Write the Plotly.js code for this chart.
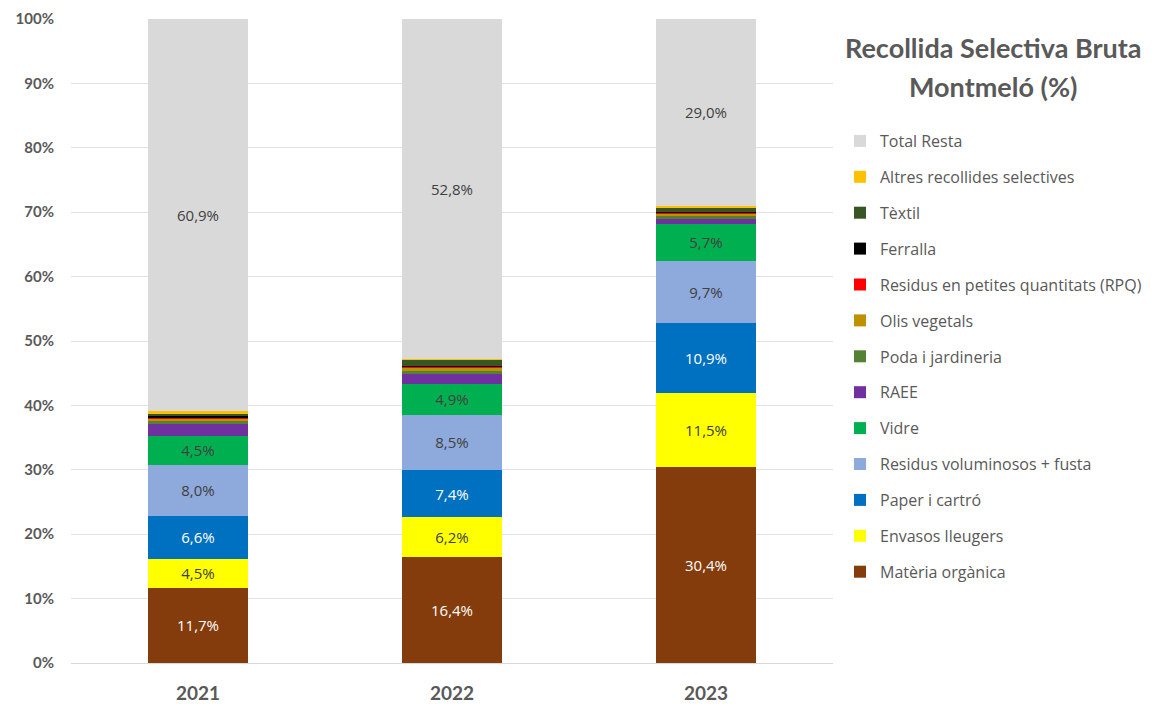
<!DOCTYPE html>
<html>
<head>
<meta charset="utf-8">
<script src="https://cdn.plot.ly/plotly-3.0.1.min.js"></script>
<style>html,body{margin:0;padding:0;background:#fff;}#chart{width:1158px;height:704px;}</style>
</head>
<body>
<div id="chart"></div>
<script>
const years = ['2021', '2022', '2023'];

const materiaOrganica = [11.7, 16.4, 30.4];
const envasosLleugers = [4.5, 6.2, 11.5];
const paperCartro = [6.6, 7.4, 10.9];
const residusVoluminosos = [8.0, 8.5, 9.7];
const vidre = [4.5, 4.9, 5.7];
const raee = [1.8, 1.4, 0.8];
const podaJardineria = [0.5, 0.6, 0.4];
const olisVegetals = [0.3, 0.4, 0.3];
const rpq = [0.1, 0.2, 0.1];
const ferralla = [0.3, 0.1, 0.2];
const textil = [0.4, 1.0, 0.6];
const altres = [0.4, 0.1, 0.4];
const totalResta = [60.9, 52.8, 29.0];

const yTicks = [0, 10, 20, 30, 40, 50, 60, 70, 80, 90, 100];
const yTickLabels = ['0%', '10%', '20%', '30%', '40%', '50%', '60%', '70%', '80%', '90%', '100%'];

const series = [
  {name: 'Matèria orgànica', y: materiaOrganica, color: '#843C0C', label: true, tc: '#FFFFFF'},
  {name: 'Envasos lleugers', y: envasosLleugers, color: '#FFFF00', label: true, tc: '#404040'},
  {name: 'Paper i cartró', y: paperCartro, color: '#0070C0', label: true, tc: '#FFFFFF'},
  {name: 'Residus voluminosos + fusta', y: residusVoluminosos, color: '#8EA9DB', label: true, tc: '#404040'},
  {name: 'Vidre', y: vidre, color: '#00B050', label: true, tc: '#404040'},
  {name: 'RAEE', y: raee, color: '#7030A0', label: false},
  {name: 'Poda i jardineria', y: podaJardineria, color: '#548235', label: false},
  {name: 'Olis vegetals', y: olisVegetals, color: '#BF9000', label: false},
  {name: 'Residus en petites quantitats (RPQ)', y: rpq, color: '#FF0000', label: false},
  {name: 'Ferralla', y: ferralla, color: '#000000', label: false},
  {name: 'Tèxtil', y: textil, color: '#375623', label: false},
  {name: 'Altres recollides selectives', y: altres, color: '#FFC000', label: false},
  {name: 'Total Resta', y: totalResta, color: '#D9D9D9', label: true, tc: '#404040'}
];

const fmt = v => v.toFixed(1).replace('.', ',') + '%';

const traces = series.map((s, i) => ({
  type: 'bar',
  name: s.name,
  x: years,
  y: s.y,
  legendgroup: 'g' + i,
  legendrank: 1000 - i,
  marker: {color: s.color, line: {width: 0}},
  text: s.label ? s.y.map(fmt) : undefined,
  textposition: s.label ? 'inside' : 'none',
  insidetextanchor: 'middle',
  textangle: 0,
  constraintext: 'none',
  textfont: {family: '"Open Sans", sans-serif', size: 15, color: s.tc || '#404040'},
  hoverinfo: 'skip'
}));

const layout = {
  width: 1158,
  height: 704,
  barmode: 'stack',
  bargap: 0.605,
  paper_bgcolor: '#FFFFFF',
  plot_bgcolor: '#FFFFFF',
  margin: {l: 71, r: 325, t: 19, b: 41},
  font: {family: '"Open Sans", sans-serif', color: '#595959'},
  xaxis: {
    type: 'category',
    tickfont: {size: 19, color: '#595959', family: 'Lato, sans-serif', weight: 'bold'},
    showline: true,
    linecolor: '#D9D9D9',
    linewidth: 1,
    ticks: '',
    ticklen: 0,
    ticklabelstandoff: 13,
    fixedrange: true
  },
  yaxis: {
    range: [0, 100],
    tickvals: yTicks,
    ticktext: yTickLabels,
    tickfont: {size: 15, color: '#595959', family: 'Lato, sans-serif', weight: 'bold'},
    showgrid: true,
    gridcolor: '#E3E3E3',
    gridwidth: 1,
    zeroline: false,
    ticks: '',
    ticklabelstandoff: 16,
    fixedrange: true
  },
  legend: {
    x: 840 / 1158,
    xref: 'container',
    y: 1 - 124 / 704,
    yref: 'container',
    xanchor: 'left',
    yanchor: 'top',
    traceorder: 'grouped',
    tracegroupgap: 12.1,
    maxheight: 690,
    font: {size: 16, color: '#595959', family: '"Open Sans", sans-serif'},
    itemwidth: 30,
    bgcolor: 'rgba(0,0,0,0)'
  },
  annotations: [
    {text: '<b>Recollida Selectiva Bruta</b>', xref: 'paper', yref: 'paper', x: 1 + (993 - 833) / 762, y: 1 - (48 - 19) / 644, xanchor: 'center', yanchor: 'middle', showarrow: false, font: {size: 27, color: '#595959', family: 'Lato, sans-serif'}},
    {text: '<b>Montmeló (%)</b>', xref: 'paper', yref: 'paper', x: 1 + (993 - 833) / 762, y: 1 - (86 - 19) / 644, xanchor: 'center', yanchor: 'middle', showarrow: false, font: {size: 27, color: '#595959', family: 'Lato, sans-serif'}}
  ]
};

Plotly.newPlot('chart', traces, layout, {displayModeBar: false, staticPlot: true});
</script>
</body>
</html>
